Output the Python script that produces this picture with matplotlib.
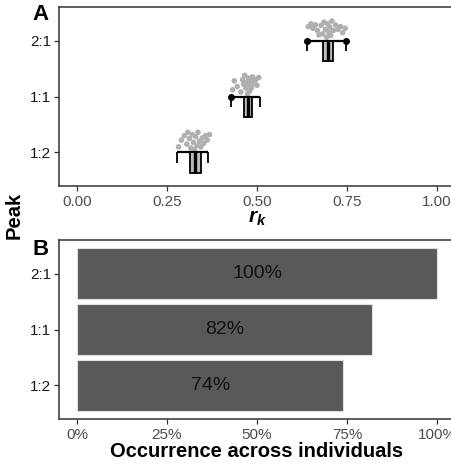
import matplotlib
matplotlib.use("Agg")
import matplotlib.pyplot as plt
import numpy as np

plt.rcParams['font.family'] = ['Liberation Sans', 'DejaVu Sans']
plt.rcParams['mathtext.fontset'] = 'custom'
plt.rcParams['mathtext.it'] = 'Liberation Sans:italic:bold'
plt.rcParams['mathtext.rm'] = 'Liberation Sans:bold'

# ---- data ----
peaks = ["1:2", "1:1", "2:1"]
levels = [1, 2, 3]

# boxplot stats per peak: whisker low, q1, median, q3, whisker high
whis_lo = [0.277, 0.429, 0.640]
q1 = [0.313, 0.463, 0.683]
med = [0.329, 0.476, 0.697]
q3 = [0.345, 0.487, 0.711]
whis_hi = [0.364, 0.507, 0.748]
outliers = [[], [0.429], [0.640, 0.748]]

# individual r_k values (x) and their vertical jitter above each level
pts_12_x = [0.282, 0.290, 0.298, 0.305, 0.308, 0.312, 0.316, 0.320, 0.323, 0.326,
            0.330, 0.333, 0.336, 0.340, 0.344, 0.348, 0.352, 0.357, 0.362, 0.368]
pts_12_y = [0.10, 0.22, 0.30, 0.15, 0.36, 0.25, 0.08, 0.32, 0.18, 0.05,
            0.28, 0.12, 0.36, 0.20, 0.10, 0.26, 0.16, 0.30, 0.22, 0.32]
pts_11_x = [0.432, 0.437, 0.445, 0.455, 0.460, 0.463, 0.466, 0.469, 0.472, 0.474,
            0.476, 0.478, 0.480, 0.482, 0.485, 0.488, 0.492, 0.496, 0.500, 0.505]
pts_11_y = [0.12, 0.28, 0.18, 0.08, 0.30, 0.22, 0.38, 0.15, 0.26, 0.05,
            0.33, 0.20, 0.10, 0.28, 0.16, 0.35, 0.24, 0.30, 0.20, 0.34]
pts_21_x = [0.642, 0.650, 0.655, 0.662, 0.668, 0.672, 0.678, 0.682, 0.686, 0.690, 0.693,
            0.696, 0.699, 0.702, 0.705, 0.708, 0.712, 0.718, 0.725, 0.732, 0.738, 0.745]
pts_21_y = [0.25, 0.30, 0.22, 0.28, 0.18, 0.10, 0.27, 0.12, 0.33, 0.20, 0.06,
            0.30, 0.15, 0.24, 0.09, 0.35, 0.18, 0.28, 0.20, 0.25, 0.14, 0.22]
pts_x = [pts_12_x, pts_11_x, pts_21_x]
pts_y = [pts_12_y, pts_11_y, pts_21_y]

occurrence = [0.74, 0.82, 1.00]
occ_labels = ["74%", "82%", "100%"]

rk_ticks = [0.0, 0.25, 0.5, 0.75, 1.0]
rk_ticklabels = ["0.00", "0.25", "0.50", "0.75", "1.00"]
occ_ticklabels = ["0%", "25%", "50%", "75%", "100%"]

# ---- figure ----
W, H = 452, 466
fig = plt.figure(figsize=(W / 100, H / 100), dpi=100)
axA = fig.add_axes([59 / W, 1 - 186 / H, 396 / W, 179 / H])
axB = fig.add_axes([59 / W, 1 - 419 / H, 396 / W, 179 / H])

def style(ax):
    for s in ax.spines.values():
        s.set_linewidth(1.1)
        s.set_color('#333333')
    ax.tick_params(axis='both', length=3.5, width=0.9, color='#333333')
    ax.tick_params(axis='x', labelsize=11, labelcolor='#4d4d4d', pad=3)
    ax.tick_params(axis='y', labelsize=11, labelcolor='#1a1a1a', pad=2)
    ax.set_xlim(-0.05, 1.05)
    ax.set_ylim(0.4, 3.6)
    ax.set_yticks(levels)
    ax.set_yticklabels(peaks)
    ax.set_xticks(rk_ticks)

# panel A
style(axA)
axA.set_xticklabels(rk_ticklabels)
box_h = 0.37
cap_h = 0.18
for i, lv in enumerate(levels):
    axA.scatter(pts_x[i], np.array(pts_y[i]) + lv, s=16, color='#b0b0b0',
                edgecolors='none', zorder=2)
    axA.hlines(lv, whis_lo[i], whis_hi[i], color='black', lw=1.6, zorder=3)
    axA.vlines([whis_lo[i], whis_hi[i]], lv - cap_h, lv, color='black', lw=1.3, zorder=3)
    axA.bar(q1[i], box_h, width=q3[i] - q1[i], bottom=lv - box_h, align='edge',
            color='#bdbdbd', edgecolor='black', linewidth=1.3, zorder=4)
    axA.vlines(med[i], lv - box_h, lv, color='black', lw=2.4, zorder=5)
    if outliers[i]:
        axA.scatter(outliers[i], [lv] * len(outliers[i]), s=16, color='black', zorder=6)
axA.set_xlabel(r'$r_k$', fontsize=15, labelpad=0)

# panel B
style(axB)
axB.set_xticklabels(occ_ticklabels)
axB.barh(levels, occurrence, height=0.9, color='#595959', edgecolor='#e0e0e0', linewidth=0.8)
for lv, v, lab in zip(levels, occurrence, occ_labels):
    axB.text(v / 2, lv, lab, ha='center', va='center', fontsize=14, color='#111111')
axB.set_xlabel('Occurrence across individuals', fontsize=14.5, fontweight='bold', labelpad=0)

fig.text(14 / W, 1 - 215 / H, 'Peak', rotation=90, ha='center', va='center',
         fontsize=14.5, fontweight='bold')
fig.text(32 / W, 1 - 15 / H, 'A', ha='left', va='center', fontsize=16, fontweight='bold')
fig.text(32 / W, 1 - 250 / H, 'B', ha='left', va='center', fontsize=16, fontweight='bold')

fig.savefig('out.png', dpi=100)
